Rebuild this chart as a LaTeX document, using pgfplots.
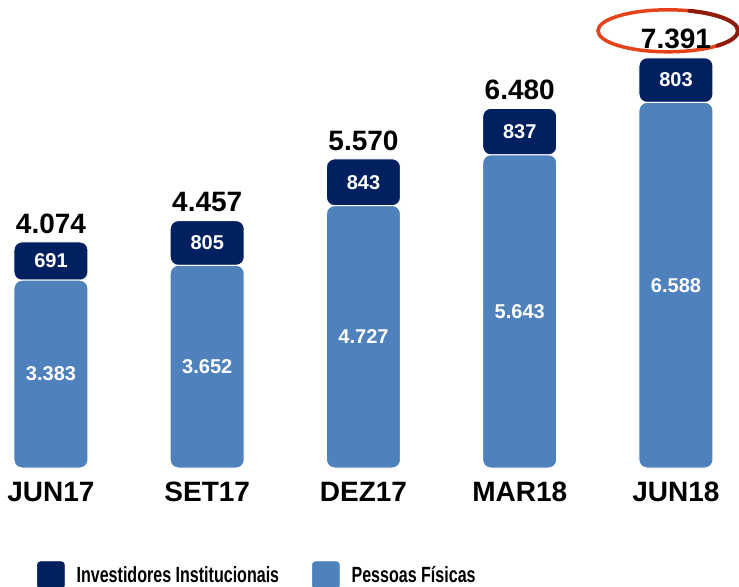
\documentclass[border=0pt]{standalone}
\usepackage{graphicx}
\usepackage{pgfplots}
\pgfplotsset{compat=1.18}
\usepackage{pgfplotstable}
\usepackage{fontspec}
\setmainfont{Liberation Sans}
\definecolor{navy}{HTML}{002060}
\definecolor{lblue}{HTML}{4F81BD}
\definecolor{ringred}{HTML}{E5421A}
\definecolor{ringdark}{HTML}{8E1C0C}
\pgfplotstableread{
x pf ii tot pflab iilab totlab
0 3383 691 4074 3.383 691 4.074
1 3652 805 4457 3.652 805 4.457
2 4727 843 5570 4.727 843 5.570
3 5643 837 6480 5.643 837 6.480
4 6588 803 7391 6.588 803 7.391
}\data
\pgfplotsset{base/.style={
  at={(4.1bp,119bp)}, anchor=south west,
  scale only axis, width=718.75bp, height=438.45bp,
  xmin=-0.3, xmax=4.3, ymin=0, ymax=7900, clip=false,
  ytick=\empty, axis line style={draw=none}, major tick length=0pt}}
\begin{document}
\begin{tikzpicture}
\useasboundingbox (0,0) rectangle (739bp,587bp);
\begin{axis}[base, ybar stacked, bar width=74bp,
  xtick={0,1,2,3,4}, xticklabels={JUN17,SET17,DEZ17,MAR18,JUN18},
  xticklabel style={font=\fontsize{28bp}{30bp}\selectfont\bfseries, text=black, anchor=base, yshift=-33bp},
  legend columns=2,
  legend style={at={(axis cs:-0.0894,-1680)}, anchor=north west, draw=none, fill=none,
    inner sep=0pt, font=\fontsize{22bp}{24bp}\selectfont\bfseries,
    /tikz/every odd column/.append style={column sep=10bp},
    /tikz/every even column/.append style={column sep=31bp}}]
\addplot[fill=lblue, draw=white, line width=1bp, rounded corners=8bp, forget plot] table[x=x,y=pf]{\data};
\addplot[fill=navy, draw=white, line width=1bp, rounded corners=8bp, forget plot] table[x=x,y=ii]{\data};
\addlegendimage{legend image code/.code={\fill[navy,rounded corners=3bp] (0bp,-13.5bp) rectangle (27bp,13.5bp);}}
\addlegendentry{\scalebox{0.73}[1]{Investidores Institucionais}}
\addlegendimage{legend image code/.code={\fill[lblue,rounded corners=3bp] (0bp,-13.5bp) rectangle (27bp,13.5bp);}}
\addlegendentry{\scalebox{0.73}[1]{Pessoas Físicas}}
\end{axis}
\begin{axis}[base, hide axis]
\addplot[draw=none, mark=none, nodes near coords, point meta=explicit symbolic,
  every node near coord/.append style={anchor=center, text=white, font=\fontsize{20bp}{22bp}\selectfont\bfseries}]
  table[x=x, y expr=\thisrow{pf}/2, meta=pflab]{\data};
\addplot[draw=none, mark=none, nodes near coords, point meta=explicit symbolic,
  every node near coord/.append style={anchor=center, text=white, font=\fontsize{20bp}{22bp}\selectfont\bfseries}]
  table[x=x, y expr=\thisrow{pf}+\thisrow{ii}/2, meta=iilab]{\data};
\addplot[draw=none, mark=none, nodes near coords, point meta=explicit symbolic,
  every node near coord/.append style={anchor=south, text=black, yshift=5bp, font=\fontsize{28bp}{30bp}\selectfont\bfseries}]
  table[x=x, y=tot, meta=totlab]{\data};
\draw[ringred, line width=3.5bp] (axis cs:4,7391) ++(-8bp,27bp) ellipse [x radius=70bp, y radius=21bp];
\draw[ringdark, line width=4bp, line cap=round] (axis cs:4,7391) ++(-8bp,27bp) ++(-45:70bp and 21bp) arc[start angle=-45, end angle=72, x radius=70bp, y radius=21bp];
\end{axis}
\end{tikzpicture}
\end{document}
